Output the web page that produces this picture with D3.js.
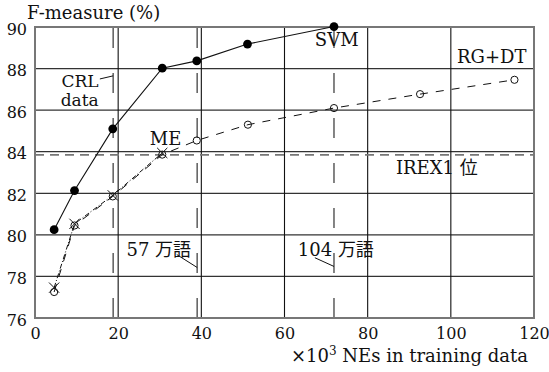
<!DOCTYPE html>
<html>
<head>
<meta charset="utf-8">
<script src="https://cdn.jsdelivr.net/npm/d3@7"></script>
<style>
  body { margin: 0; background: #fff; }
  svg { display: block; }
  text { font-family: "DejaVu Serif", "Noto Sans CJK JP", serif; fill: #111; }
</style>
</head>
<body>
<svg width="549" height="372"></svg>
<script>
// values
var xTicks = [0, 20, 40, 60, 80, 100, 120];
var yTicks = [76, 78, 80, 82, 84, 86, 88, 90];

var svmX = [4.6, 9.5, 18.7, 30.6, 38.9, 51.1, 71.9];
var svmY = [80.25, 82.13, 85.1, 88.02, 88.37, 89.18, 90.02];

var rgdtX = [4.6, 9.5, 18.7, 30.6, 38.9, 51.2, 71.9, 92.6, 115.3];
var rgdtY = [77.25, 80.45, 81.85, 83.86, 84.54, 85.3, 86.1, 86.77, 87.46];

var meX = [4.6, 9.5, 18.7, 30.6];
var meY = [77.46, 80.53, 81.9, 83.94];

var irexLevel = 83.85;
var corpusX = [18.8, 39.0, 71.9];

var svg = d3.select("svg");

var x = d3.scaleLinear().domain([0, 120]).range([35, 534]);
var y = d3.scaleLinear().domain([76, 90]).range([318, 27]);

function zip(xs, ys) {
    return xs.map(function (v, i) { return [v, ys[i]]; });
}
var line = d3.line()
    .x(function (d) { return x(d[0]); })
    .y(function (d) { return y(d[1]); });

// grid
svg.append("g")
    .selectAll("line")
    .data(yTicks.slice(1, -1))
    .enter().append("line")
    .attr("x1", x(0)).attr("x2", x(120))
    .attr("y1", function (d) { return y(d); })
    .attr("y2", function (d) { return y(d); })
    .attr("stroke", "#333").attr("stroke-width", 1.2);

svg.append("g")
    .selectAll("line")
    .data(xTicks.slice(1, -1))
    .enter().append("line")
    .attr("y1", y(76)).attr("y2", y(90))
    .attr("x1", function (d) { return x(d); })
    .attr("x2", function (d) { return x(d); })
    .attr("stroke", "#111").attr("stroke-width", 1.1);

// corpus size markers (long dashes, drawn from the bottom up)
svg.append("g")
    .selectAll("line")
    .data(corpusX)
    .enter().append("line")
    .attr("x1", function (d) { return x(d); })
    .attr("x2", function (d) { return x(d); })
    .attr("y1", y(76)).attr("y2", y(90))
    .attr("stroke", "#666").attr("stroke-width", 1.6)
    .attr("stroke-dasharray", "20,25");

// IREX1 level
svg.append("line")
    .attr("x1", x(0)).attr("x2", x(120))
    .attr("y1", y(irexLevel)).attr("y2", y(irexLevel))
    .attr("stroke", "#777").attr("stroke-width", 1.6)
    .attr("stroke-dasharray", "9,6");

// frame
svg.append("rect")
    .attr("x", x(0)).attr("y", y(90))
    .attr("width", x(120) - x(0)).attr("height", y(76) - y(90))
    .attr("fill", "none").attr("stroke", "#777").attr("stroke-width", 2);

// tick labels
var xAxis = d3.axisBottom(x).tickValues(xTicks).tickSize(0).tickPadding(10);
svg.append("g")
    .attr("transform", "translate(0," + y(76) + ")")
    .call(xAxis)
    .call(function (g) { g.select(".domain").remove(); })
    .selectAll("text")
    .style("font-family", "DejaVu Serif").style("font-size", "16px").attr("fill", "#111");

var yAxis = d3.axisLeft(y).tickValues(yTicks).tickSize(0).tickPadding(8);
svg.append("g")
    .attr("transform", "translate(" + x(0) + ",2)")
    .call(yAxis)
    .call(function (g) { g.select(".domain").remove(); })
    .selectAll("text")
    .style("font-family", "DejaVu Serif").style("font-size", "16px").attr("fill", "#111");

// series lines
svg.append("path")
    .datum(zip(meX, meY))
    .attr("d", line)
    .attr("fill", "none").attr("stroke", "#111").attr("stroke-width", 1)
    .attr("stroke-dasharray", "5,2,1,2");

svg.append("path")
    .datum(zip(rgdtX, rgdtY))
    .attr("d", line)
    .attr("fill", "none").attr("stroke", "#111").attr("stroke-width", 1)
    .attr("stroke-dasharray", "8,8");

svg.append("path")
    .datum(zip(svmX, svmY))
    .attr("d", line)
    .attr("fill", "none").attr("stroke", "#111").attr("stroke-width", 1.1);

// markers
svg.append("g")
    .selectAll("circle")
    .data(zip(rgdtX, rgdtY))
    .enter().append("circle")
    .attr("cx", function (d) { return x(d[0]); })
    .attr("cy", function (d) { return y(d[1]); })
    .attr("r", 3.6)
    .attr("fill", "none").attr("stroke", "#111").attr("stroke-width", 1);

svg.append("g")
    .selectAll("path")
    .data(zip(meX, meY))
    .enter().append("path")
    .attr("transform", function (d) { return "translate(" + x(d[0]) + "," + y(d[1]) + ")"; })
    .attr("d", d3.symbol().type(d3.symbolX).size(70))
    .attr("fill", "none").attr("stroke", "#111").attr("stroke-width", 1);

svg.append("g")
    .selectAll("circle")
    .data(zip(svmX, svmY))
    .enter().append("circle")
    .attr("cx", function (d) { return x(d[0]); })
    .attr("cy", function (d) { return y(d[1]); })
    .attr("r", 4.4)
    .attr("fill", "#000");

// annotations
function label(tx, ty, str, anchor, size) {
    return svg.append("text")
        .attr("x", x(tx)).attr("y", y(ty))
        .attr("text-anchor", anchor || "start")
        .style("font-size", (size || 18) + "px")
        .text(str);
}

label(67.3, 89.09, "SVM");
label(101.5, 88.29, "RG+DT");
label(15.3, 87.1, "CRL", "end", 17);
label(15.3, 86.2, "data", "end", 17);
label(27.6, 84.34, "ME");
label(86.8, 82.94, "IREX1 位");
label(22.0, 78.97, "57 万語");
label(63.2, 78.97, "104 万語");

// leader lines
var leaders = [
    [[15.6, 87.5], [18.8, 87.65]],
    [[34.1, 79.05], [39.0, 78.43]],
    [[67.3, 78.9], [71.9, 78.48]]
];
svg.append("g")
    .selectAll("path")
    .data(leaders)
    .enter().append("path")
    .attr("d", line)
    .attr("fill", "none").attr("stroke", "#111").attr("stroke-width", 1);

// axis titles
svg.append("text")
    .attr("x", 27).attr("y", 19)
    .style("font-size", "18px")
    .text("F-measure (%)");

var xt = svg.append("text")
    .attr("x", 528).attr("y", 362)
    .attr("text-anchor", "end")
    .style("font-size", "18px");
xt.append("tspan").text("×10");
xt.append("tspan").attr("dy", -7).style("font-size", "12px").text("3");
xt.append("tspan").attr("dy", 7).text(" NEs in training data");
</script>
</body>
</html>
